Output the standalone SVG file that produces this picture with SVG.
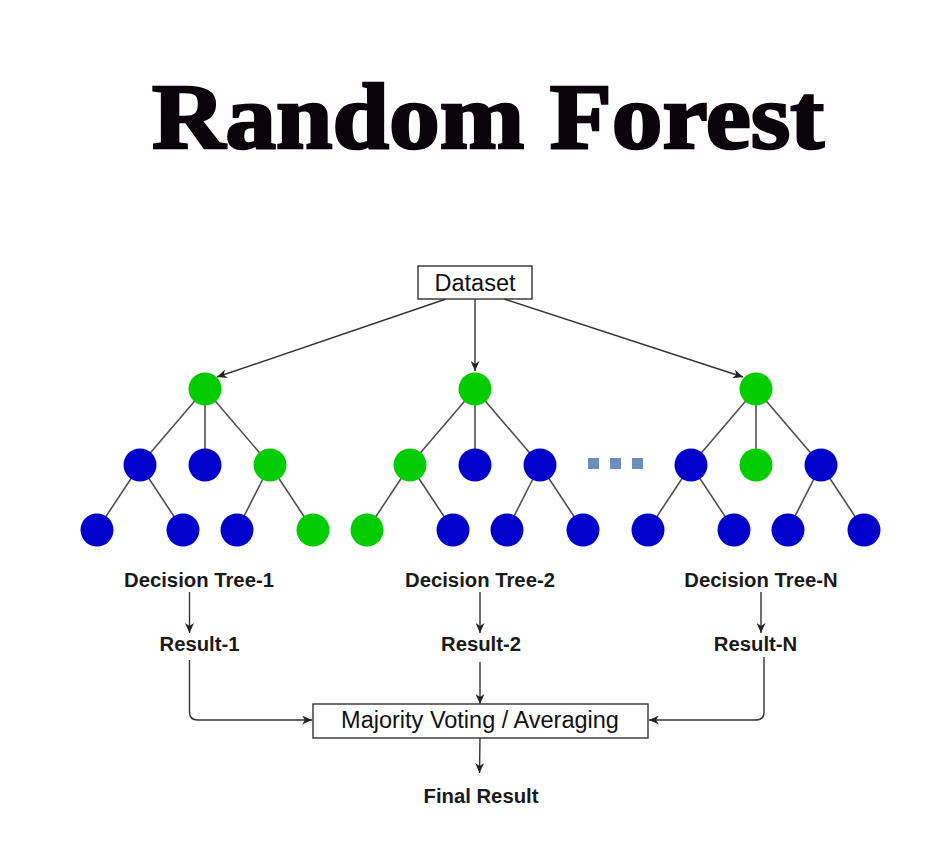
<svg xmlns="http://www.w3.org/2000/svg" width="927" height="868" viewBox="0 0 927 868">
<style>
.g{fill:#00cc00}
.b{fill:#0000cc}
.e{stroke:#505050;stroke-width:1.6;fill:none}
.c{stroke:#333;stroke-width:1.4;fill:none}
.box{fill:#fff;stroke:#333;stroke-width:1.4}
.t{font-family:"Liberation Sans",Arial,sans-serif;fill:#111;text-anchor:middle}
.lb{font-family:"Liberation Sans",Arial,sans-serif;font-weight:bold;font-size:20.3px;fill:#1a1a1a;text-anchor:middle}
.sq{fill:#6c8ebf}
</style>
<defs>
<marker id="ah" markerUnits="userSpaceOnUse" markerWidth="11" markerHeight="9" refX="10" refY="4.5" orient="auto">
<path d="M0,0 L10,4.5 L0,9 L3,4.5 Z" fill="#222"/>
</marker>
</defs>
<rect width="927" height="868" fill="#fff"/>
<text id="title" x="488" y="148" font-family="'Liberation Serif','Times New Roman',serif" font-weight="bold" font-size="93" fill="#0a0309" stroke="#0a0309" stroke-width="2.6" text-anchor="middle" textLength="672" lengthAdjust="spacingAndGlyphs">Random Forest</text>

<g id="connectors">
<line class="c" x1="446" y1="299" x2="217" y2="377" marker-end="url(#ah)"/>
<line class="c" x1="475" y1="299" x2="475" y2="371" marker-end="url(#ah)"/>
<line class="c" x1="504" y1="299" x2="743" y2="377" marker-end="url(#ah)"/>
<line class="c" x1="189.5" y1="592" x2="189.5" y2="633" marker-end="url(#ah)"/>
<line class="c" x1="480" y1="592" x2="480" y2="633" marker-end="url(#ah)"/>
<line class="c" x1="761" y1="592" x2="761" y2="633" marker-end="url(#ah)"/>
<path class="c" d="M189.5,660 V712 Q189.5,720 197.5,720 H312" marker-end="url(#ah)"/>
<path class="c" d="M480,662 V704" marker-end="url(#ah)"/>
<path class="c" d="M764,657 V712 Q764,720 756,720 H649" marker-end="url(#ah)"/>
<path class="c" d="M480,738 L479.5,773" marker-end="url(#ah)"/>
</g>

<g id="dataset">
<rect class="box" x="418" y="266" width="114" height="33"/>
<text class="t" x="475" y="291" font-size="23.5">Dataset</text>
</g>

<g id="tree1">
<path class="e" d="M205,389 L140,465 M205,389 L205,465 M205,389 L270,465 M140,465 L97,530 M140,465 L183,530 M270,465 L237,530 M270,465 L313,530"/>
<circle class="g" cx="205" cy="389" r="16.5"/>
<circle class="b" cx="140" cy="465" r="16.5"/>
<circle class="b" cx="205" cy="465" r="16.5"/>
<circle class="g" cx="270" cy="465" r="16.5"/>
<circle class="b" cx="97" cy="530" r="16.5"/>
<circle class="b" cx="183" cy="530" r="16.5"/>
<circle class="b" cx="237" cy="530" r="16.5"/>
<circle class="g" cx="313" cy="530" r="16.5"/>
</g>

<g id="tree2">
<path class="e" d="M475,389 L410,465 M475,389 L475,465 M475,389 L540,465 M410,465 L367,530 M410,465 L453,530 M540,465 L507,530 M540,465 L583,530"/>
<circle class="g" cx="475" cy="389" r="16.5"/>
<circle class="g" cx="410" cy="465" r="16.5"/>
<circle class="b" cx="475" cy="465" r="16.5"/>
<circle class="b" cx="540" cy="465" r="16.5"/>
<circle class="g" cx="367" cy="530" r="16.5"/>
<circle class="b" cx="453" cy="530" r="16.5"/>
<circle class="b" cx="507" cy="530" r="16.5"/>
<circle class="b" cx="583" cy="530" r="16.5"/>
</g>

<g id="dots">
<rect class="sq" x="588" y="458" width="11" height="11"/>
<rect class="sq" x="610" y="458" width="11" height="11"/>
<rect class="sq" x="632" y="458" width="11" height="11"/>
</g>

<g id="treeN">
<path class="e" d="M756,389 L691,465 M756,389 L756,465 M756,389 L821,465 M691,465 L648,530 M691,465 L734,530 M821,465 L788,530 M821,465 L864,530"/>
<circle class="g" cx="756" cy="389" r="16.5"/>
<circle class="b" cx="691" cy="465" r="16.5"/>
<circle class="g" cx="756" cy="465" r="16.5"/>
<circle class="b" cx="821" cy="465" r="16.5"/>
<circle class="b" cx="648" cy="530" r="16.5"/>
<circle class="b" cx="734" cy="530" r="16.5"/>
<circle class="b" cx="788" cy="530" r="16.5"/>
<circle class="b" cx="864" cy="530" r="16.5"/>
</g>

<g id="labels">
<text class="lb" x="199" y="587">Decision Tree-1</text>
<text class="lb" x="480" y="587">Decision Tree-2</text>
<text class="lb" x="761" y="587">Decision Tree-N</text>
<text class="lb" x="199.5" y="651">Result-1</text>
<text class="lb" x="481" y="651">Result-2</text>
<text class="lb" x="755.5" y="651">Result-N</text>
</g>

<g id="majority">
<rect class="box" x="313" y="704" width="335" height="34"/>
<text class="t" x="480" y="728" font-size="23.5">Majority Voting / Averaging</text>
</g>

<g id="final">
<text class="lb" x="481" y="803">Final Result</text>
</g>
</svg>
